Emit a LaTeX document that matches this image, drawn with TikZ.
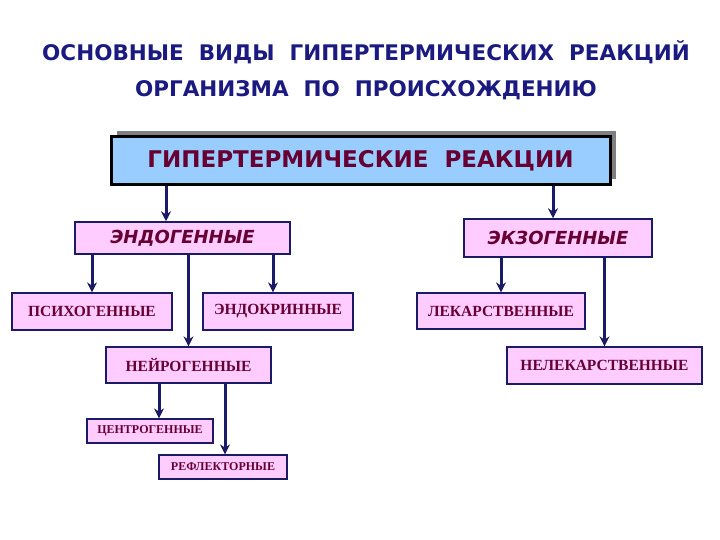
\documentclass[tikz,border=0pt]{standalone}
\usepackage{fontspec}
\setmainfont{Liberation Serif}
\newfontfamily\headfont{DejaVu Sans}
\usepackage{xcolor}
\usetikzlibrary{shadows,arrows.meta}
\definecolor{titlenavy}{HTML}{1A1A80}
\definecolor{wine}{HTML}{660033}
\definecolor{boxblue}{HTML}{99CCFF}
\definecolor{boxpink}{HTML}{FFCCFF}
\definecolor{linenavy}{HTML}{1A1A66}
\definecolor{shadowgray}{HTML}{808080}

\begin{document}
\begin{tikzpicture}[x=1pt,y=-1pt,>={Stealth[length=10pt,width=10pt]},
  kind/.style={draw=linenavy,line width=1.5pt,fill=boxpink,inner sep=0pt,
    font=\headfont\bfseries\itshape\fontsize{18}{20}\selectfont,text=wine},
  leaf/.style={draw=linenavy,line width=1.2pt,fill=boxpink,inner sep=0pt,
    font=\bfseries\fontsize{15.5}{17}\selectfont,text=wine},
  small/.style={leaf,font=\bfseries\fontsize{12}{14}\selectfont},
  link/.style={->,line width=3pt,draw=linenavy}]
  \useasboundingbox (0,0) rectangle (720,540);
  % heading
  \node[font=\headfont\bfseries\fontsize{21.5}{36}\selectfont,text=titlenavy,
    align=center] (title) at (366,70)
    {ОСНОВНЫЕ~ ВИДЫ~ ГИПЕРТЕРМИЧЕСКИХ~ РЕАКЦИЙ\\ ОРГАНИЗМА~ ПО~ ПРОИСХОЖДЕНИЮ};
  \node[draw=black,line width=3pt,fill=boxblue,minimum width=499pt,
    minimum height=48pt,inner sep=0pt,
    drop shadow={shadow xshift=6pt,shadow yshift=6pt,fill=shadowgray,opacity=1},
    font=\headfont\bfseries\fontsize{23}{25}\selectfont,text=wine]
    (main) at (360.5,161) {ГИПЕРТЕРМИЧЕСКИЕ~ РЕАКЦИИ};
  % two kinds
  \node[kind,minimum width=215pt,minimum height=32pt] (endo) at (182.5,238) {ЭНДОГЕННЫЕ};
  \node[kind,minimum width=188pt,minimum height=38pt] (exo) at (558,238) {ЭКЗОГЕННЫЕ};
  % endogenous
  \node[leaf,minimum width=160pt,minimum height=37pt] (psy) at (92,311.5) {ПСИХОГЕННЫЕ};
  \node[leaf,minimum width=150pt,minimum height=37pt] (endocr) at (278,311.5) {ЭНДОКРИННЫЕ};
  \node[leaf,minimum width=165pt,minimum height=36pt] (neuro) at (188.5,365) {НЕЙРОГЕННЫЕ};
  \node[small,minimum width=126pt,minimum height=24pt] (centro) at (150,431) {ЦЕНТРОГЕННЫЕ};
  \node[small,minimum width=128pt,minimum height=24pt] (reflex) at (223,467) {РЕФЛЕКТОРНЫЕ};
  % exogenous
  \node[leaf,minimum width=168pt,minimum height=36pt] (lek) at (501,311) {ЛЕКАРСТВЕННЫЕ};
  \node[leaf,minimum width=195pt,minimum height=37pt] (nolek) at (604.5,365.5) {НЕЛЕКАРСТВЕННЫЕ};
  % arrows
  \draw[link] ([xshift=-16.5pt]endo.north |- main.south) -- ([xshift=-16.5pt]endo.north);
  \draw[link] ([xshift=-5pt]exo.north |- main.south) -- ([xshift=-5pt]exo.north);
  \draw[link] (endo.south -| psy.north) -- (psy.north);
  \draw[link] (endo.south -| neuro.north) -- (neuro.north);
  \draw[link] ([xshift=-5pt]endocr.north |- endo.south) -- ([xshift=-5pt]endocr.north);
  \draw[link] ([xshift=9pt]centro.north |- neuro.south) -- ([xshift=9pt]centro.north);
  \draw[link] ([xshift=2pt]reflex.north |- neuro.south) -- ([xshift=2pt]reflex.north);
  \draw[link] (exo.south -| lek.north) -- (lek.north);
  \draw[link] (exo.south -| nolek.north) -- (nolek.north);
\end{tikzpicture}
\end{document}
